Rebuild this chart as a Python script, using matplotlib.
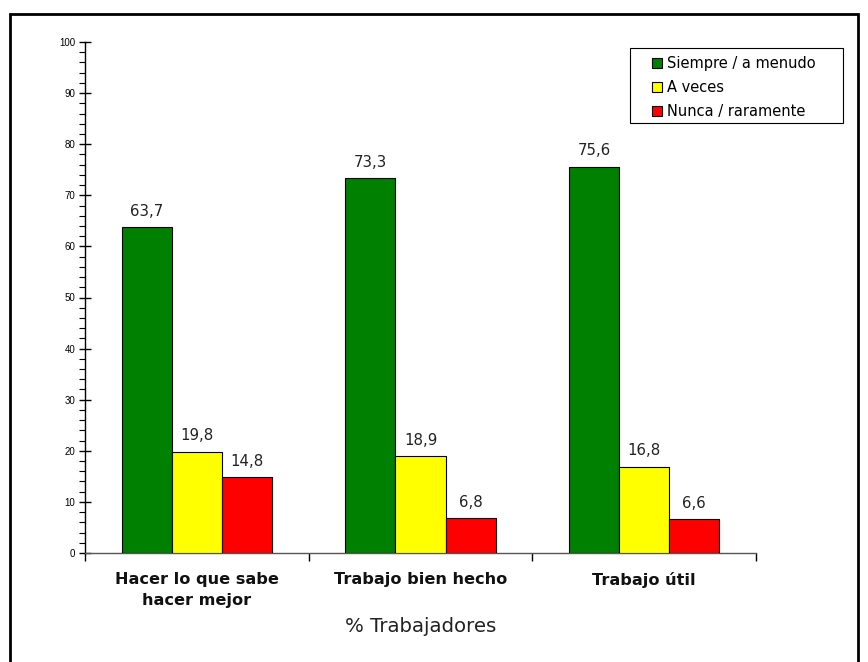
import matplotlib
matplotlib.use("Agg")
import matplotlib.pyplot as plt
import numpy as np
from matplotlib.patches import Rectangle
from matplotlib.ticker import MultipleLocator, FixedLocator, NullFormatter

categories = ["Hacer lo que sabe\nhacer mejor", "Trabajo bien hecho", "Trabajo útil"]
series_names = ["Siempre / a menudo", "A veces", "Nunca / raramente"]
siempre = [63.7, 73.3, 75.6]
a_veces = [19.8, 18.9, 16.8]
nunca = [14.8, 6.8, 6.6]
colors = ["#008000", "#FFFF00", "#FF0000"]

fig = plt.figure(figsize=(8.68, 6.62), dpi=100)
fig.patch.set_facecolor("white")
# outer border
fig.patches.append(Rectangle((10/868, -0.01), 848/868, 1 - 14/662 + 0.01,
                             transform=fig.transFigure, fill=False,
                             edgecolor="black", linewidth=2))

ax = fig.add_axes([85/868, 1 - 553/662, (756 - 85)/868, (553 - 42)/662])
# legend frame
ax.add_patch(Rectangle((630/868, 1 - 123/662), 213/868, 75/662,
                       transform=fig.transFigure, fill=True,
                       facecolor="white", edgecolor="black",
                       linewidth=0.8, zorder=4, clip_on=False))

x = np.arange(len(categories))
w = 0.224
vals = [siempre, a_veces, nunca]
for i, (name, v, c) in enumerate(zip(series_names, vals, colors)):
    bars = ax.bar(x + (i - 1) * w, v, w, color=c, edgecolor="black",
                  linewidth=0.8, label=name, zorder=3)
    for b, val in zip(bars, v):
        ax.text(b.get_x() + b.get_width() / 2, val + 1.7,
                f"{val:.1f}".replace(".", ","), ha="center", va="bottom",
                fontsize=10.8, family="DejaVu Sans", color="#222222")

ax.set_xlim(-0.5, 2.5)
ax.set_ylim(0, 100)
for s in ["top", "right"]:
    ax.spines[s].set_visible(False)
ax.spines["left"].set_color("black")
ax.spines["bottom"].set_color("#555555")
ax.spines["left"].set_linewidth(1.0)
ax.spines["bottom"].set_linewidth(1.0)

ax.yaxis.set_major_locator(MultipleLocator(10))
ax.yaxis.set_minor_locator(MultipleLocator(2))
ax.tick_params(axis="y", which="major", direction="inout", length=8,
               labelsize=7, width=1, pad=3)
ax.tick_params(axis="y", which="minor", direction="out", length=4, width=0.8)
for lbl in ax.get_yticklabels():
    lbl.set_family("Liberation Sans")

ax.xaxis.set_major_locator(FixedLocator([-0.5, 0.5, 1.5, 2.5]))
ax.xaxis.set_major_formatter(NullFormatter())
ax.xaxis.set_minor_locator(FixedLocator(list(x)))
ax.set_xticklabels(categories, minor=True)
ax.tick_params(axis="x", which="major", direction="out", length=6, width=1, color="black")
ax.tick_params(axis="x", which="minor", length=0, pad=14)
for lbl in ax.get_xticklabels(minor=True):
    lbl.set_fontweight("bold")
    lbl.set_fontsize(11.6)
    lbl.set_family("DejaVu Sans")
    lbl.set_verticalalignment("top")
    lbl.set_linespacing(1.45)
    lbl.set_color("#111111")

fig.text((85 + 756) / 2 / 868, 1 - 627 / 662, "% Trabajadores", ha="center",
         va="center", fontsize=14.2, family="DejaVu Sans", color="#222222")

leg = ax.legend(loc="upper left", bbox_to_anchor=(652/868, 1 - 56/662),
                bbox_transform=fig.transFigure, frameon=False,
                handlelength=0.7, handleheight=0.7, handletextpad=0.3,
                labelspacing=0.63, borderpad=0, borderaxespad=0,
                prop={"family": "DejaVu Sans", "size": 10.5})
leg.set_zorder(6)

fig.savefig("out.png", dpi=100, facecolor="white")
